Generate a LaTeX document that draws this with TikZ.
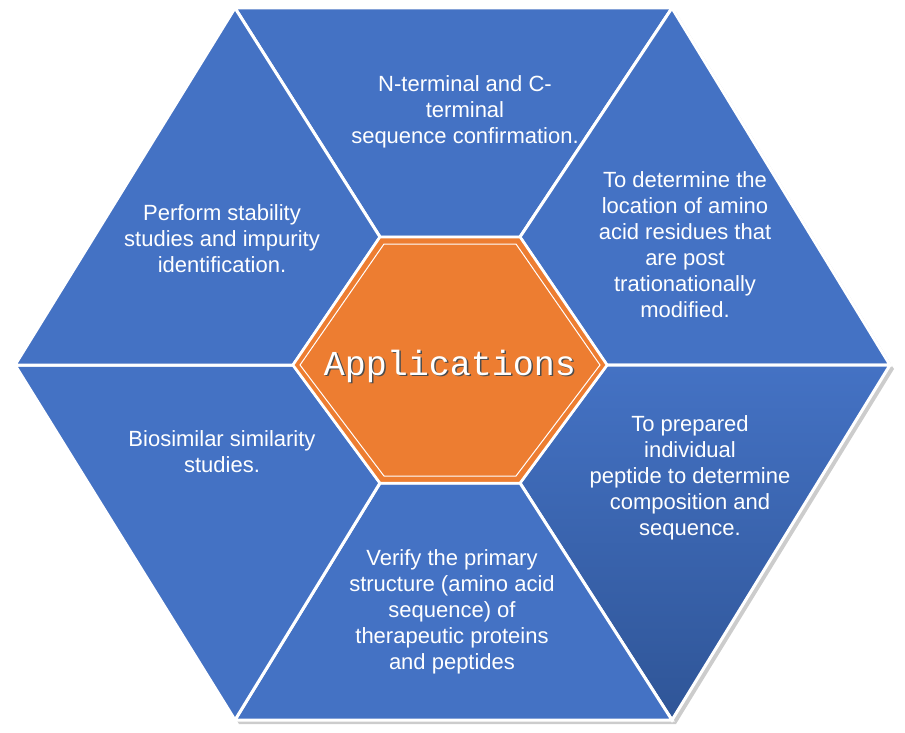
\documentclass[tikz,border=0pt]{standalone}
\usepackage{fontspec}
\setmainfont{Liberation Sans}
\newfontfamily\titlefont{Liberation Mono}
\definecolor{segblue}{HTML}{4472C4}
\definecolor{segdark}{HTML}{2F5597}
\definecolor{hexorange}{HTML}{ED7D31}
\begin{document}
\begin{tikzpicture}[x=1pt,y=-1pt,
  seg/.style={fill=segblue,draw=white,line width=3pt,line join=miter},
  lbl/.style={text=white,align=center,font=\fontsize{22}{26}\selectfont}]
\useasboundingbox (0,0) rectangle (905,733);
\coordinate (L) at (15,365); \coordinate (TL) at (235,8); \coordinate (TR) at (672,8);
\coordinate (R) at (890,365); \coordinate (BR) at (672,720); \coordinate (BL) at (235,720);
\coordinate (l) at (293,365); \coordinate (tl) at (380,237); \coordinate (tr) at (520,237);
\coordinate (r) at (607,365); \coordinate (br) at (520,483); \coordinate (bl) at (380,483);
\fill[gray!40] ([shift={(4,4)}]L) -- ([shift={(4,4)}]TL) -- ([shift={(4,4)}]TR) -- ([shift={(4,4)}]R) -- ([shift={(4,4)}]BR) -- ([shift={(4,4)}]BL) -- cycle;
\draw[seg] (TL) -- (TR) -- (tr) -- (tl) -- cycle;
\draw[seg] (TR) -- (R) -- (r) -- (tr) -- cycle;
\draw[seg,top color=segblue,bottom color=segdark] (R) -- (BR) -- (br) -- (r) -- cycle;
\draw[seg] (BR) -- (BL) -- (bl) -- (br) -- cycle;
\draw[seg] (BL) -- (L) -- (l) -- (bl) -- cycle;
\draw[seg] (L) -- (TL) -- (tl) -- (l) -- cycle;
\draw[fill=hexorange,draw=white,line width=2.5pt] (l) -- (tl) -- (tr) -- (r) -- (br) -- (bl) -- cycle;
\draw[draw=white,line width=1pt] (300,365) -- (384,244) -- (516,244) -- (600,365) -- (516,476) -- (384,476) -- cycle;
\node[font=\titlefont\fontsize{35}{36}\selectfont,text=gray!60!black] at (451.5,367.5) {Applications};
\node[font=\titlefont\fontsize{35}{36}\selectfont,text=white] (title) at (450,366) {Applications};
\node[lbl] (t1) at (465,112) {N-terminal and C-\\terminal\\sequence confirmation.};
\node[lbl] (t2) at (685,245) {To determine the\\location of amino\\acid residues that\\are post\\trationationally\\modified.};
\node[lbl] (t3) at (690,478) {To prepared\\individual\\peptide to determine\\composition and\\sequence.};
\node[lbl] (t4) at (452,612) {Verify the primary\\structure (amino acid\\sequence) of\\therapeutic proteins\\and peptides};
\node[lbl] (t5) at (222,452) {Biosimilar similarity\\studies.};
\node[lbl] (t6) at (222,239) {Perform stability\\studies and impurity\\identification.};
\end{tikzpicture}
\end{document}
